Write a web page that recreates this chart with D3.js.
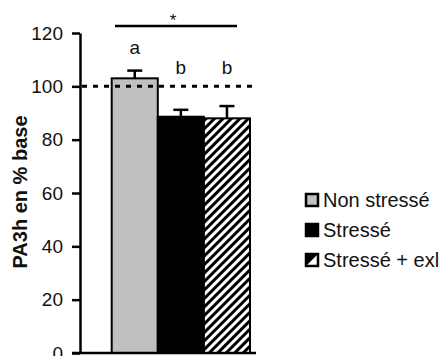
<!DOCTYPE html>
<html>
<head>
<meta charset="utf-8">
<script src="https://cdn.jsdelivr.net/npm/d3@7"></script>
<style>
  html, body { margin: 0; padding: 0; background: #fff; }
  svg { display: block; font-family: "Liberation Sans", Arial, sans-serif; }
</style>
</head>
<body>
<svg id="chart" width="445" height="356"></svg>
<script>
// Groups, means and SEM (PA3h in % of baseline)
const groups = ["Non stressé", "Stressé", "Stressé + exl"];
const means = [103.0, 88.6, 88.0];
const sems = [2.9, 2.6, 4.6];
const letters = ["a", "b", "b"];
const yTicks = [0, 20, 40, 60, 80, 100, 120];
const baseline = 100;

const fills = ["#c0c0c0", "#000000", "url(#hatch)"];

const svg = d3.select("#chart");

// diagonal hatch for the third group
const defs = svg.append("defs");
const pat = defs.append("pattern")
  .attr("id", "hatch")
  .attr("patternUnits", "userSpaceOnUse")
  .attr("width", 6).attr("height", 6)
  .attr("patternTransform", "rotate(45)");
pat.append("rect").attr("width", 6).attr("height", 6).attr("fill", "#fff");
pat.append("rect").attr("x", 0).attr("width", 3).attr("height", 6).attr("fill", "#000");

const y = d3.scaleLinear().domain([0, 120]).range([353, 33]);
const x = d3.scaleBand().domain(groups).range([111.7, 250]).paddingInner(0).paddingOuter(0);

const axisX = 80;

// bars
svg.append("g").selectAll("rect")
  .data(groups)
  .join("rect")
  .attr("x", d => x(d))
  .attr("y", (d, i) => y(means[i]))
  .attr("width", x.bandwidth())
  .attr("height", (d, i) => y(0) - y(means[i]))
  .attr("fill", (d, i) => fills[i])
  .attr("stroke", "#000")
  .attr("stroke-width", 2);

// error bars (upper side only)
const eb = svg.append("g").attr("stroke", "#000").attr("stroke-width", 2.5);
groups.forEach((g, i) => {
  const cx = x(g) + x.bandwidth() / 2;
  eb.append("line")
    .attr("x1", cx).attr("x2", cx)
    .attr("y1", y(means[i])).attr("y2", y(means[i] + sems[i]));
  eb.append("line")
    .attr("x1", cx - 7.5).attr("x2", cx + 7.5)
    .attr("y1", y(means[i] + sems[i])).attr("y2", y(means[i] + sems[i]));
});

// baseline reference (100 %)
svg.append("line")
  .attr("x1", axisX + 2).attr("x2", 256)
  .attr("y1", y(baseline)).attr("y2", y(baseline))
  .attr("stroke", "#000")
  .attr("stroke-width", 3)
  .attr("stroke-dasharray", "5,6");

// y axis
const yAxis = svg.append("g")
  .attr("transform", `translate(${axisX},0)`)
  .call(d3.axisLeft(y).tickValues(yTicks).tickSize(8).tickPadding(9).tickSizeOuter(0));
yAxis.select(".domain").attr("stroke", "#000").attr("stroke-width", 2.5);
yAxis.selectAll(".tick line").attr("stroke", "#000").attr("stroke-width", 2.5);
yAxis.selectAll(".tick text")
  .attr("font-size", 19)
  .attr("font-family", "Liberation Sans, Arial, sans-serif")
  .attr("fill", "#111");

// x axis baseline
svg.append("line")
  .attr("x1", 72).attr("x2", 256)
  .attr("y1", y(0)).attr("y2", y(0))
  .attr("stroke", "#000").attr("stroke-width", 2.5);

// y axis title
svg.append("text")
  .attr("transform", "translate(27,192) rotate(-90)")
  .attr("text-anchor", "middle")
  .attr("font-size", 20)
  .attr("font-weight", "bold")
  .attr("fill", "#111")
  .text("PA3h en % base");

// group letters: above the error bar, but never below the 100 % line
groups.forEach((g, i) => {
  const cx = x(g) + x.bandwidth() / 2;
  const ly = Math.min(y(means[i] + sems[i]) - 17, y(baseline) - 12);
  svg.append("text")
    .attr("x", cx)
    .attr("y", ly)
    .attr("text-anchor", "middle")
    .attr("font-size", 19)
    .attr("fill", "#111")
    .text(letters[i]);
});

// significance bar across groups
svg.append("line")
  .attr("x1", 115).attr("x2", 237)
  .attr("y1", 26).attr("y2", 26)
  .attr("stroke", "#000").attr("stroke-width", 2.5);
svg.append("text")
  .attr("x", 173).attr("y", 26)
  .attr("text-anchor", "middle")
  .attr("font-size", 17)
  .attr("fill", "#111")
  .text("*");

// legend
const legend = svg.append("g");
groups.forEach((g, i) => {
  const cy = 200 + i * 30;
  const row = legend.append("g");
  if (i === 2) {
    row.append("rect")
      .attr("x", 306).attr("y", cy - 6).attr("width", 12).attr("height", 12)
      .attr("fill", "#fff").attr("stroke", "#000").attr("stroke-width", 2.5);
    row.append("path")
      .attr("d", `M306,${cy - 6}L318,${cy - 6}L306,${cy + 6}Z`)
      .attr("fill", "#000");
  } else {
    row.append("rect")
      .attr("x", 306).attr("y", cy - 6).attr("width", 12).attr("height", 12)
      .attr("fill", fills[i]).attr("stroke", "#000").attr("stroke-width", 2.5);
  }
  row.append("text")
    .attr("x", 323).attr("y", cy)
    .attr("dy", "0.35em")
    .attr("font-size", 20)
    .attr("fill", "#111")
    .text(g);
});
</script>
</body>
</html>
